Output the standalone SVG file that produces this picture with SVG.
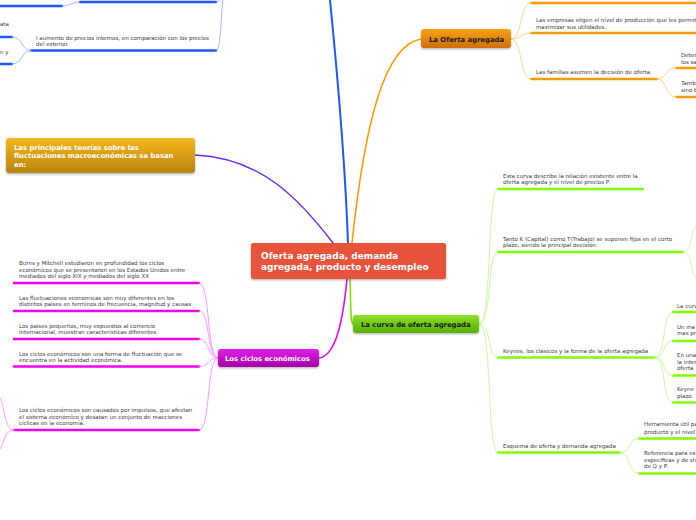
<svg xmlns="http://www.w3.org/2000/svg" width="696" height="520" viewBox="0 0 696 520">
<defs>
<linearGradient id="gGold" x1="0" y1="0" x2="0" y2="1"><stop offset="0" stop-color="#f7b51c"/><stop offset="1" stop-color="#b7860d"/></linearGradient>
<linearGradient id="gOrange" x1="0" y1="0" x2="0" y2="1"><stop offset="0" stop-color="#f7a21b"/><stop offset="1" stop-color="#cf6e05"/></linearGradient>
<linearGradient id="gGreen" x1="0" y1="0" x2="0" y2="1"><stop offset="0" stop-color="#8fe028"/><stop offset="1" stop-color="#55b100"/></linearGradient>
<linearGradient id="gPink" x1="0" y1="0" x2="0" y2="1"><stop offset="0" stop-color="#e020e6"/><stop offset="1" stop-color="#a500a8"/></linearGradient>
<filter id="sh" x="-10%" y="-20%" width="120%" height="150%"><feDropShadow dx="0" dy="1.2" stdDeviation="1" flood-color="#000" flood-opacity="0.3"/></filter>
</defs>
<style>
.t{font-family:"DejaVu Sans","Liberation Sans",sans-serif;font-size:5.5px;fill:#3a3a3a}
.nb{font-family:"DejaVu Sans","Liberation Sans",sans-serif;font-weight:bold;font-size:6.85px}
.c{fill:none;stroke-linecap:round}
.bT{stroke:#1f55ff;stroke-width:2.4}
.bt{stroke:#8aa8ff;stroke-width:0.8}
.oT{stroke:#ff9a00;stroke-width:2.4}
.ot{stroke:#ffcf80;stroke-width:0.9}
.gT{stroke:#80ff00;stroke-width:2.4}
.gt{stroke:#c8f59a;stroke-width:0.9}
.pT{stroke:#ee00ee;stroke-width:2.4}
.pt{stroke:#ff8cff;stroke-width:0.9}
</style>
<rect width="696" height="520" fill="#ffffff"/>
<g id="connectors">
<path class="c" d="M348,243 C345,160 336,60 330,0" stroke="#1f55ff" stroke-width="2"/>
<path class="c" d="M195,155 C262,158 300,200 333,243" stroke="#6a28f5" stroke-width="1.4"/>
<path class="c" d="M352,243 C365,120 385,45 421,39" stroke="#ff9a00" stroke-width="1.6"/>
<path class="c" d="M350,279 C351,302 350,322 353,324" stroke="#80e000" stroke-width="1.6"/>
<path class="c" d="M347,279 C343,320 336,356 319,358" stroke="#ee00ee" stroke-width="1.6"/>
<path class="c bT" d="M0,6 L62,6"/>
<path class="c bT" d="M80,2 L216,2"/>
<path class="c bT" d="M31,50.5 L216,50.5"/>
<path class="c bT" d="M0,37 L12,37"/>
<path class="c bT" d="M0,64 L12,64"/>
<path class="c bt" d="M62,6 C70,6 72,2 80,2"/>
<path class="c bt" d="M216,2 C222,2 222,-8 225,-16"/>
<path class="c bt" d="M216,50.5 C222,50.5 220,10 225,-16"/>
<path class="c bt" d="M31,50.5 C21,50.5 23,37 12,37"/>
<path class="c bt" d="M31,50.5 C21,50.5 23,64 12,64"/>
<path class="c oT" d="M531,3 L696,3"/>
<path class="c oT" d="M531,33 L696,33"/>
<path class="c oT" d="M531,79 L657,79"/>
<path class="c oT" d="M676,68 L696,68"/>
<path class="c oT" d="M676,97 L696,97"/>
<path class="c ot" d="M511,39 C523,39 519,3 531,3"/>
<path class="c ot" d="M511,39 C523,39 519,33 531,33"/>
<path class="c ot" d="M511,39 C523,39 519,79 531,79"/>
<path class="c ot" d="M657,79 C668,79 664,68 676,68"/>
<path class="c ot" d="M657,79 C668,79 664,97 676,97"/>
<path class="c gT" d="M498,189 L643,189"/>
<path class="c gT" d="M498,252 L683,252"/>
<path class="c gT" d="M498,357.5 L655,357.5"/>
<path class="c gT" d="M498,452.5 L620,452.5"/>
<path class="c gT" d="M673,312 L696,312"/>
<path class="c gT" d="M673,341 L696,341"/>
<path class="c gT" d="M673,375.5 L696,375.5"/>
<path class="c gT" d="M673,402.5 L696,402.5"/>
<path class="c gT" d="M639,438.5 L696,438.5"/>
<path class="c gT" d="M639,473.5 L696,473.5"/>
<path class="c gt" d="M479,324 C493,324 486,189 498,189"/>
<path class="c gt" d="M479,324 C493,324 486,252 498,252"/>
<path class="c gt" d="M479,324 C493,324 486,357.5 498,357.5"/>
<path class="c gt" d="M479,324 C493,324 486,452.5 498,452.5"/>
<path class="c gt" d="M683,252 C693,252 690,232 696,226"/>
<path class="c gt" d="M683,252 C693,252 690,272 696,278"/>
<path class="c gt" d="M655,357.5 C667,357.5 661,312 673,312"/>
<path class="c gt" d="M655,357.5 C667,357.5 661,341 673,341"/>
<path class="c gt" d="M655,357.5 C667,357.5 661,375.5 673,375.5"/>
<path class="c gt" d="M655,357.5 C667,357.5 661,402.5 673,402.5"/>
<path class="c gt" d="M620,452.5 C632,452.5 627,438.5 639,438.5"/>
<path class="c gt" d="M620,452.5 C632,452.5 627,473.5 639,473.5"/>
<path class="c pT" d="M14,283 L199,283"/>
<path class="c pT" d="M14,311 L199,311"/>
<path class="c pT" d="M14,339 L199,339"/>
<path class="c pT" d="M14,366.5 L199,366.5"/>
<path class="c pT" d="M14,430 L199,430"/>
<path class="c pt" d="M218,358 C206,358 211,283 199,283"/>
<path class="c pt" d="M218,358 C206,358 211,311 199,311"/>
<path class="c pt" d="M218,358 C206,358 211,339 199,339"/>
<path class="c pt" d="M218,358 C206,358 211,366.5 199,366.5"/>
<path class="c pt" d="M218,358 C206,358 211,430 199,430"/>
<path class="c pt" d="M14,430 C4,430 5,406 0,398"/>
<path class="c pt" d="M14,430 C4,430 5,442 0,449"/>
</g>
<g id="n-left-top">
<text class="t" x="0" y="26">ata</text>
<text class="t" x="0" y="54">n y</text>
<text class="t" x="36" y="40">I aumento de precios internos, en comparación con los precios</text>
<text class="t" x="36" y="46">del exterior.</text>
</g>
<g id="n-central">
<rect x="251" y="243" width="195" height="36" rx="2.5" fill="#e8533b" filter="url(#sh)"/>
<text class="nb" x="261" y="258.5" fill="#fff" style="font-size:9px">Oferta agregada, demanda</text>
<text class="nb" x="261" y="269.5" fill="#fff" style="font-size:9px">agregada, producto y desempleo</text>
</g>
<g id="n-teorias">
<rect x="6" y="138" width="189" height="35" rx="3" fill="url(#gGold)" filter="url(#sh)"/>
<text class="nb" x="14" y="149.5" fill="#fff">Las principales teorías sobre las</text>
<text class="nb" x="14" y="158" fill="#fff">fluctuaciones macroeconómicas se basan</text>
<text class="nb" x="14" y="166.5" fill="#fff">en:</text>
</g>
<g id="n-oferta">
<rect x="421" y="29" width="90" height="19" rx="3" fill="url(#gOrange)" filter="url(#sh)"/>
<text class="nb" x="429" y="41.5" fill="#1a1a1a">La Oferta agregada</text>
</g>
<g id="n-oferta-children">
<text class="t" x="536" y="22">Las empresas eligen el nivel de producción que les permit</text>
<text class="t" x="536" y="28.5">maximizar sus utilidades.</text>
<text class="t" x="536" y="73.5">Las familias asumen la decisión de oferta.</text>
<text class="t" x="681" y="57">Deter</text>
<text class="t" x="681" y="64">los sa</text>
<text class="t" x="681" y="85">Tamb</text>
<text class="t" x="681" y="92">sino b</text>
</g>
<g id="n-curva">
<rect x="353" y="315" width="126" height="18" rx="3" fill="url(#gGreen)" filter="url(#sh)"/>
<text class="nb" x="361" y="326.5" fill="#1a1a1a">La curva de oferta agregada</text>
</g>
<g id="n-curva-children">
<text class="t" x="503" y="177.5">Esta curva describe la relación existente entre la</text>
<text class="t" x="503" y="184">oferta agregada y el nivel de precios P</text>
<text class="t" x="503" y="241">Tanto K (Capital) como T(Trabajo) se suponen fijos en el corto</text>
<text class="t" x="503" y="247">plazo, siendo la principal decisión:</text>
<text class="t" x="503" y="353">Keynes, los clásicos y la forma de la oferta agregada</text>
<text class="t" x="677" y="307.5">La curv</text>
<text class="t" x="677" y="328.5">Un ma</text>
<text class="t" x="677" y="335">mas pr</text>
<text class="t" x="677" y="357">En una</text>
<text class="t" x="677" y="363.5">la inter</text>
<text class="t" x="677" y="370">oferta</text>
<text class="t" x="677" y="391">Keyne</text>
<text class="t" x="677" y="398">plazo.</text>
<text class="t" x="503" y="447.5">Esquema de oferta y demanda agregada</text>
<text class="t" x="644" y="426">Herramienta útil pa</text>
<text class="t" x="644" y="433.5">producto y el nivel</text>
<text class="t" x="644" y="454.5">Referencia para es</text>
<text class="t" x="644" y="461.5">especificas y de sh</text>
<text class="t" x="644" y="468">de Q y P.</text>
</g>
<g id="n-ciclos">
<rect x="218" y="349" width="101" height="18" rx="3" fill="url(#gPink)" filter="url(#sh)"/>
<text class="nb" x="225" y="361" fill="#fff">Los ciclos económicos</text>
</g>
<g id="n-ciclos-children">
<text class="t" x="19" y="265">Burns y Mitchell estudiaron en profundidad los ciclos</text>
<text class="t" x="19" y="271.5">económicos que se presentaron en los Estados Unidos entre</text>
<text class="t" x="19" y="278">mediados del siglo XIX y mediados del siglo XX</text>
<text class="t" x="19" y="299.5">Las fluctuaciones economicas son muy diferentes en los</text>
<text class="t" x="19" y="306">distintos paises en terminos de frecuencia, magnitud y causas.</text>
<text class="t" x="19" y="328">Los paises pequeños, muy expuestos al comercio</text>
<text class="t" x="19" y="334">internacional, muestran características diferentes.</text>
<text class="t" x="19" y="356">Los ciclos económicos son una forma de fluctuación que se</text>
<text class="t" x="19" y="362">encuentra en la actividad económica.</text>
<text class="t" x="19" y="412">Los ciclos económicos son causados por impulsos, que afectan</text>
<text class="t" x="19" y="418.5">el sistema económico y desatan un conjunto de reacciones</text>
<text class="t" x="19" y="425">cíclicas en la economía.</text>
</g>
</svg>
